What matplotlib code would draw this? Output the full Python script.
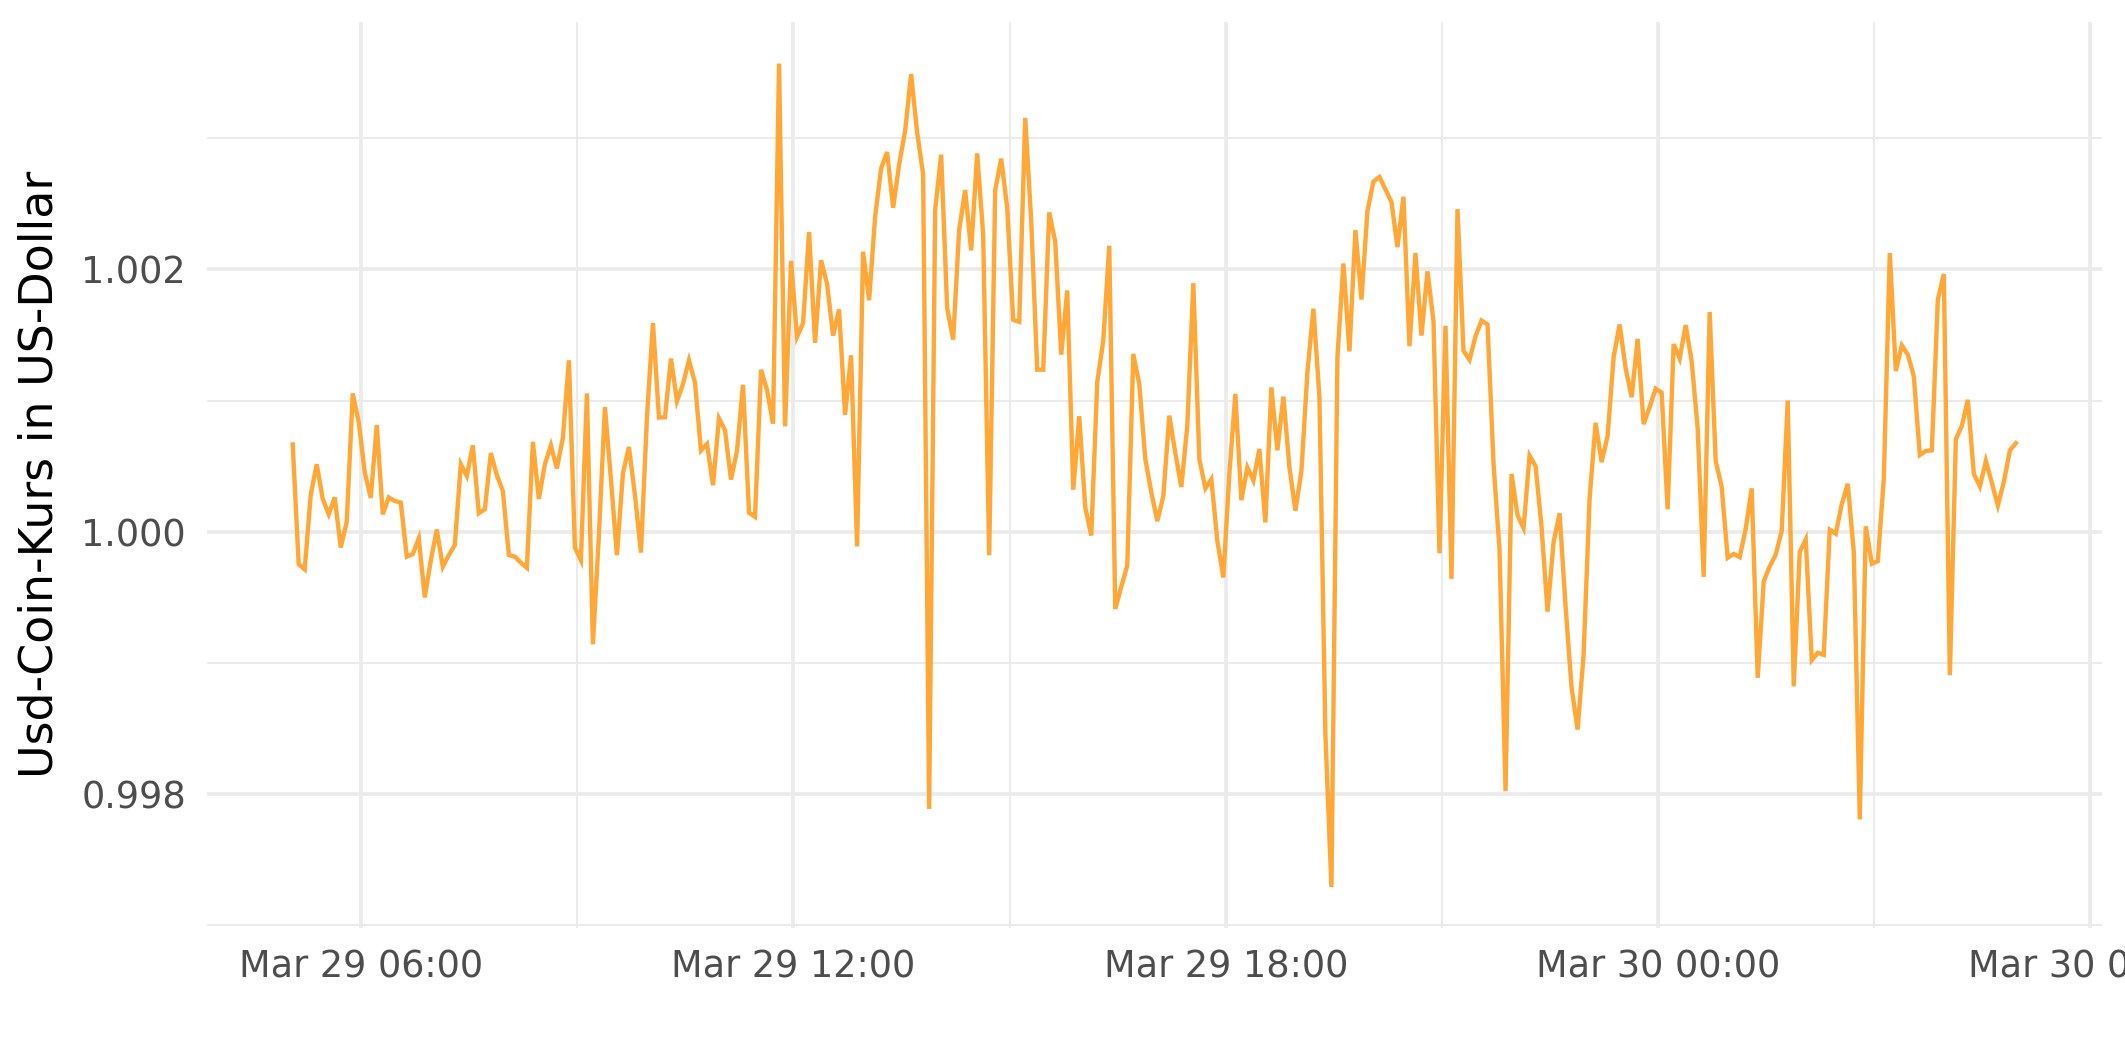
import numpy as np
import pandas as pd
import matplotlib
matplotlib.use("Agg")
import matplotlib.pyplot as plt
import matplotlib.dates as mdates
from matplotlib.ticker import MultipleLocator, FormatStrFormatter

# Startzeit und Abstand der Messpunkte (5 Minuten)
start = "2023-03-29 05:03"
step = "5min"

# Kurs in US-Dollar
kurs = [
    1.000665, 0.999751, 0.999712, 1.000280, 1.000514, 1.000249, 1.000132, 1.000261, 0.999879, 1.000074,
    1.001054, 1.000833, 1.000451, 1.000257, 1.000813, 1.000132, 1.000261, 1.000233, 1.000222, 0.999809,
    0.999829, 0.999949, 0.999498, 0.999780, 1.000016, 0.999732, 0.999821, 0.999899, 1.000514, 1.000424,
    1.000658, 1.000140, 1.000171, 1.000599, 1.000430, 1.000310, 0.999821, 0.999809, 0.999763, 0.999724,
    1.000685, 1.000249, 1.000514, 1.000658, 1.000482, 1.000716, 1.001307, 0.999879, 0.999782, 1.001054,
    0.999140, 0.999977, 1.000949, 1.000400, 0.999821, 1.000444, 1.000646, 1.000280, 0.999840, 1.000872,
    1.001591, 1.000870, 1.000872, 1.001320, 1.000996, 1.001125, 1.001307, 1.001136, 1.000619, 1.000669,
    1.000354, 1.000864, 1.000774, 1.000397, 1.000616, 1.001120, 1.000144, 1.000113, 1.001235, 1.001080,
    1.000823, 1.003570, 1.000803, 1.002065, 1.001485, 1.001590, 1.002285, 1.001440, 1.002070, 1.001890,
    1.001495, 1.001695, 1.000890, 1.001345, 0.999887, 1.002135, 1.001765, 1.002400, 1.002770, 1.002895,
    1.002470, 1.002800, 1.003055, 1.003490, 1.003045, 1.002725, 0.997885, 1.002450, 1.002875, 1.001705,
    1.001465, 1.002300, 1.002605, 1.002145, 1.002885, 1.002265, 0.999820, 1.002605, 1.002845, 1.002470,
    1.001615, 1.001600, 1.003155, 1.002370, 1.001235, 1.001235, 1.002435, 1.002210, 1.001350, 1.001840,
    1.000320, 1.000880, 1.000185, 0.999970, 1.001140, 1.001455, 1.002180, 0.999410, 0.999580, 0.999742,
    1.001355, 1.001125, 1.000555, 1.000300, 1.000080, 1.000270, 1.000885, 1.000600, 1.000340, 1.000810,
    1.001895, 1.000555, 1.000330, 1.000400, 0.999930, 0.999650, 1.000440, 1.001050, 1.000240, 1.000490,
    1.000390, 1.000630, 1.000070, 1.001100, 1.000620, 1.001030, 1.000495, 1.000160, 1.000460, 1.001215,
    1.001700, 1.001030, 0.998450, 0.997290, 1.001330, 1.002045, 1.001375, 1.002300, 1.001770, 1.002445,
    1.002670, 1.002705, 1.002610, 1.002515, 1.002170, 1.002555, 1.001415, 1.002125, 1.001495, 1.001985,
    1.001605, 0.999835, 1.001570, 0.999640, 1.002460, 1.001380, 1.001310, 1.001490, 1.001610, 1.001580,
    1.000520, 0.999860, 0.998020, 1.000440, 1.000125, 1.000027, 1.000580, 1.000500, 1.000035, 0.999390,
    0.999920, 1.000140, 0.999430, 0.998810, 0.998490, 0.999060, 1.000250, 1.000830, 1.000530, 1.000730,
    1.001330, 1.001580, 1.001245, 1.001025, 1.001470, 1.000820, 1.000950, 1.001090, 1.001060, 1.000170,
    1.001430, 1.001320, 1.001575, 1.001300, 1.000790, 0.999655, 1.001675, 1.000540, 1.000342, 0.999800,
    0.999830, 0.999805, 1.000020, 1.000330, 0.998885, 0.999620, 0.999735, 0.999825, 1.000006, 1.001000,
    0.998820, 0.999845, 0.999940, 0.999020, 0.999075, 0.999060, 1.000015, 0.999984, 1.000210, 1.000365,
    0.999845, 0.997805, 1.000040, 0.999755, 0.999775, 1.000400, 1.002125, 1.001225, 1.001420, 1.001350,
    1.001185, 1.000585, 1.000615, 1.000620, 1.001770, 1.001965, 0.998905, 1.000705, 1.000807, 1.001005,
    1.000440, 1.000345, 1.000540, 1.000370, 1.000200, 1.000380, 1.000620, 1.000675,
]

zeit = pd.date_range(start, periods=len(kurs), freq=step)

fig = plt.figure(figsize=(2125 / 300, 1062 / 300), dpi=300)
ax = fig.add_axes([0.0972, 0.1261, 0.8920, 0.8528])

ax.plot(zeit, kurs, color="#FFA737", lw=1.05, solid_joinstyle="miter")

# Achsenbereich wie bei ggplot (5% Rand)
x0 = mdates.date2num(zeit[0])
x1 = mdates.date2num(zeit[-1])
ax.set_xlim(x0 - 0.05 * (x1 - x0), x1 + 0.05 * (x1 - x0))
y0 = min(kurs)
y1 = max(kurs)
ax.set_ylim(y0 - 0.05 * (y1 - y0), y1 + 0.05 * (y1 - y0))

ax.xaxis.set_major_locator(mdates.HourLocator(byhour=[0, 6, 12, 18]))
ax.xaxis.set_minor_locator(mdates.HourLocator(byhour=[3, 9, 15, 21]))
ax.xaxis.set_major_formatter(mdates.DateFormatter("%b %d %H:%M"))
ax.yaxis.set_major_locator(MultipleLocator(0.002))
ax.yaxis.set_minor_locator(MultipleLocator(0.001))
ax.yaxis.set_major_formatter(FormatStrFormatter("%.3f"))

ax.set_axisbelow(True)
ax.grid(which="major", color="#EBEBEB", lw=0.9)
ax.grid(which="minor", color="#EBEBEB", lw=0.5)
for s in ax.spines.values():
    s.set_visible(False)

ax.tick_params(which="both", length=0, pad=4.95, labelsize=8.8, labelcolor="#4D4D4D")

fig.text(40 / 2125, 0.5529, "Usd-Coin-Kurs in US-Dollar", rotation=90,
         ha="center", va="center", fontsize=11, color="black")

fig.savefig("out.png", dpi=300)
